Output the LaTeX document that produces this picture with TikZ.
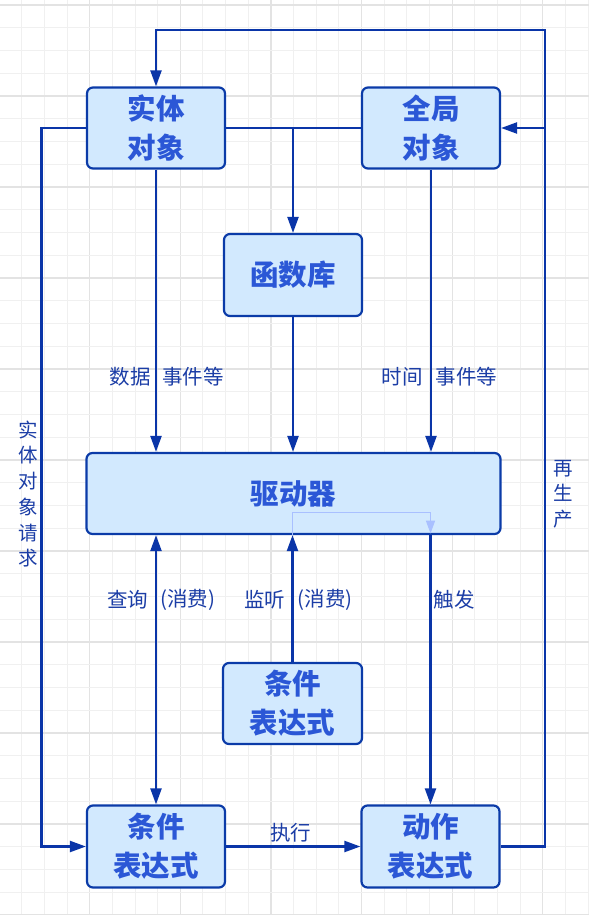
\documentclass[tikz,border=0pt]{standalone}
\usepackage{fontspec}
\newfontfamily\cjk{Noto Sans CJK SC}
\usetikzlibrary{arrows.meta,calc}
\definecolor{boxfill}{HTML}{D2E9FE}
\definecolor{boxdraw}{HTML}{0B3BA8}
\definecolor{boxtext}{HTML}{2B57D6}
\definecolor{linec}{HTML}{0A35A8}
\definecolor{labc}{HTML}{1B3DA6}
\definecolor{fadec}{HTML}{A9C0FF}
\definecolor{gridminor}{HTML}{F0F0F0}
\definecolor{gridmajor}{HTML}{E3E3E3}
\tikzset{
  box/.style={draw=boxdraw, fill=boxfill, line width=2.2pt, rounded corners=6pt,
    minimum width=138pt, minimum height=81pt, inner sep=0pt, align=center,
    text=boxtext, font=\cjk\bfseries\fontsize{28.5}{39}\selectfont},
  conn/.style={draw=linec, line width=2.2pt},
  arr/.style={conn, -{Triangle[length=16pt,width=11pt]}},
  lab/.style={text=labc, font=\cjk\fontsize{20.5}{24}\selectfont, inner sep=0pt},
  vlab/.style={text=labc, font=\cjk\fontsize{19.5}{25.7}\selectfont, inner sep=0pt, align=center},
  faded/.style={draw=fadec, line width=1.3pt, -{Triangle[length=13pt,width=9pt]}}
}
\begin{document}
\begin{tikzpicture}[x=1pt,y=-1pt]
\useasboundingbox (0,0) rectangle (589,915);
\fill[white] (0,0) rectangle (589,915);
% grid
\foreach \k in {0,...,26}{
  \pgfmathsetmacro\xx{-0.9+22.65*\k}
  \pgfmathtruncatemacro\m{mod(\k,4)}
  \ifnum\m=0 \draw[gridmajor,line width=1.2pt] (\xx,0) -- (\xx,915);
  \else \draw[gridminor,line width=1pt] (\xx,0) -- (\xx,915); \fi
}
\foreach \k in {0,...,40}{
  \pgfmathsetmacro\yy{5+22.75*\k}
  \pgfmathtruncatemacro\m{mod(\k,4)}
  \ifnum\m=0 \draw[gridmajor,line width=1.2pt] (0,\yy) -- (589,\yy);
  \else \draw[gridminor,line width=1pt] (0,\yy) -- (589,\yy); \fi
}
% boxes
\node[box] (A) at (156,128) {实体\\对象};
\node[box] (G) at (431,128) {全局\\对象};
\node[box, minimum height=82pt] (F) at (293,275) {函数库};
\node[box, minimum width=414pt] (D) at (293.5,493.5) {驱动器};
\node[box, minimum width=139pt] (C1) at (292.5,703.5) {条件\\表达式};
\node[box, minimum height=82pt] (C2) at (156,846.5) {条件\\表达式};
\node[box, minimum height=82pt] (E) at (430.5,846.5) {动作\\表达式};
% helper coordinates
\coordinate (rt) at (545,30);
\coordinate (lt) at (41.5,500);
\coordinate (f1) at (292.5,512.5);
\coordinate (f2) at (430.5,512.5);
% top connectors
\draw[conn] (A.east) -- (G.west);
\draw[arr] (A.east -| F.north) -- (F.north);
\draw[arr] (E.east) -| (rt) -| (A.north);
\draw[arr] (G.east -| rt) -- (G.east);
\draw[arr] (A.west) -| (lt) |- (C2.west);
% into driver
\draw[arr] (A.south) -- (A.south |- D.north);
\draw[arr] (F.south) -- (F.south |- D.north);
\draw[arr] (G.south) -- (G.south |- D.north);
% below driver
\draw[conn, {Triangle[length=16pt,width=11pt]}-{Triangle[length=16pt,width=11pt]}] (A.south |- D.south) -- (C2.north);
\draw[arr] (C1.north) -- (C1.north |- D.south);
\draw[arr] (E.north |- D.south) -- (E.north);
\draw[arr] (C2.east) -- (E.west);
% faded connector inside driver
\draw[faded] (f1 |- D.south) -- (f1) -- (f2) -- ($(f2 |- D.south)+(0,-1.5)$);
% labels
\node[lab, anchor=east] (l1) at (151,377) {数据};
\node[lab, anchor=west] (l2) at (162,377) {事件等};
\node[lab, anchor=east] (l3) at (423,377) {时间};
\node[lab, anchor=west] (l4) at (435.5,377) {事件等};
\node[lab, anchor=east] (l5) at (148.5,600) {查询};
\node[lab, anchor=west] (l6) at (160,600) {(消费)};
\node[lab, anchor=east] (l7) at (285.5,600) {监听};
\node[lab, anchor=west] (l8) at (297.5,600) {(消费)};
\node[lab, anchor=west] (l9) at (433.5,600) {触发};
\node[lab] (l10) at (290.5,833) {执行};
\node[vlab] (l11) at (28,494) {实\\体\\对\\象\\请\\求};
\node[vlab] (l12) at (563,494) {再\\生\\产};
\end{tikzpicture}
\end{document}
